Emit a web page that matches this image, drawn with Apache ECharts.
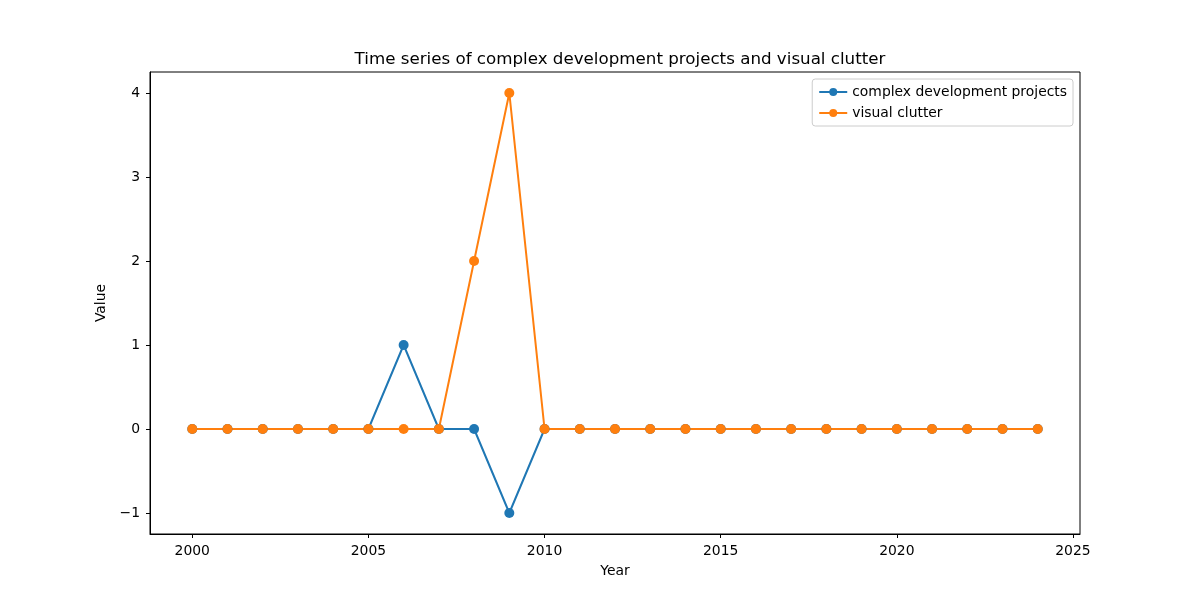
<!DOCTYPE html>
<html>
<head>
<meta charset="utf-8">
<script src="https://cdn.jsdelivr.net/npm/echarts@6/dist/echarts.min.js"></script>
<style>
  html, body { margin: 0; padding: 0; background: #fff; }
  #chart { width: 1200px; height: 600px; }
</style>
</head>
<body>
<div id="chart"></div>
<script>
"use strict";

// 年份 + 两条序列 (读自参考图)
const YEARS = [2000, 2001, 2002, 2003, 2004, 2005, 2006, 2007, 2008, 2009, 2010, 2011,
  2012, 2013, 2014, 2015, 2016, 2017, 2018, 2019, 2020, 2021, 2022, 2023, 2024];
const COMPLEX_DEV = [0, 0, 0, 0, 0, 0, 1, 0, 0, -1, 0, 0, 0, 0, 0, 0, 0, 0, 0, 0, 0, 0, 0, 0, 0];
const VISUAL_CLUTTER = [0, 0, 0, 0, 0, 0, 0, 0, 2, 4, 0, 0, 0, 0, 0, 0, 0, 0, 0, 0, 0, 0, 0, 0, 0];
const SERIES_NAMES = ["complex development projects", "visual clutter"];

const FONT = "DejaVu Sans";
const fmtNum = v => String(Math.round(v)).replace("-", "\u2212");

function pairs(ys) {
  return YEARS.map((x, i) => [x, ys[i]]);
}

function lineSeries(name, ys, color) {
  return {
    name, type: "line", data: pairs(ys),
    symbol: "circle", symbolSize: 10, showSymbol: true,
    lineStyle: { color, width: 2 },
    itemStyle: { color },
    emphasis: { disabled: true },
    animation: false,
  };
}

const chart = echarts.init(document.getElementById("chart"));
chart.setOption({
  animation: false,
  title: {
    text: "Time series of complex development projects and visual clutter",
    left: 615, top: 46, textAlign: "center",
    textStyle: { fontFamily: FONT, fontSize: 16.7, fontWeight: "normal", color: "#000" },
  },
  grid: {
    left: 150, right: 120, top: 72, bottom: 66,
    show: true, borderColor: "#000", borderWidth: 1, backgroundColor: "transparent",
  },
  legend: {
    orient: "vertical", right: 127, top: 79,
    data: SERIES_NAMES,
    itemWidth: 28, itemHeight: 10, itemGap: 7,
    padding: [6, 6, 6, 6],
    borderColor: "#ccc", borderWidth: 1, borderRadius: 3,
    backgroundColor: "rgba(255,255,255,0.8)",
    textStyle: { fontFamily: FONT, fontSize: 13.9, color: "#000" },
  },
  xAxis: {
    type: "value", min: 1998.8, max: 2025.2, splitNumber: 5,
    name: "Year", nameLocation: "middle", nameGap: 30,
    nameTextStyle: { fontFamily: FONT, fontSize: 13.9, color: "#000" },
    axisLine: { show: true, onZero: false, lineStyle: { color: "#000" } },
    axisTick: { show: true, length: 4, lineStyle: { color: "#000" } },
    axisLabel: {
      showMinLabel: false, showMaxLabel: false, margin: 10,
      fontFamily: FONT, fontSize: 13.9, color: "#000", formatter: fmtNum,
    },
    splitLine: { show: false },
  },
  yAxis: {
    type: "value", min: -1.25, max: 4.25, splitNumber: 5,
    name: "Value", nameLocation: "middle", nameGap: 37,
    nameTextStyle: { fontFamily: FONT, fontSize: 13.9, color: "#000" },
    axisLine: { show: true, onZero: false, lineStyle: { color: "#000" } },
    axisTick: { show: true, length: 4, lineStyle: { color: "#000" } },
    axisLabel: {
      showMinLabel: false, showMaxLabel: false, margin: 10,
      fontFamily: FONT, fontSize: 13.9, color: "#000", formatter: fmtNum,
    },
    splitLine: { show: false },
  },
  series: [
    lineSeries(SERIES_NAMES[0], COMPLEX_DEV, "#1f77b4"),
    lineSeries(SERIES_NAMES[1], VISUAL_CLUTTER, "#ff7f0e"),
  ],
});
</script>
</body>
</html>
